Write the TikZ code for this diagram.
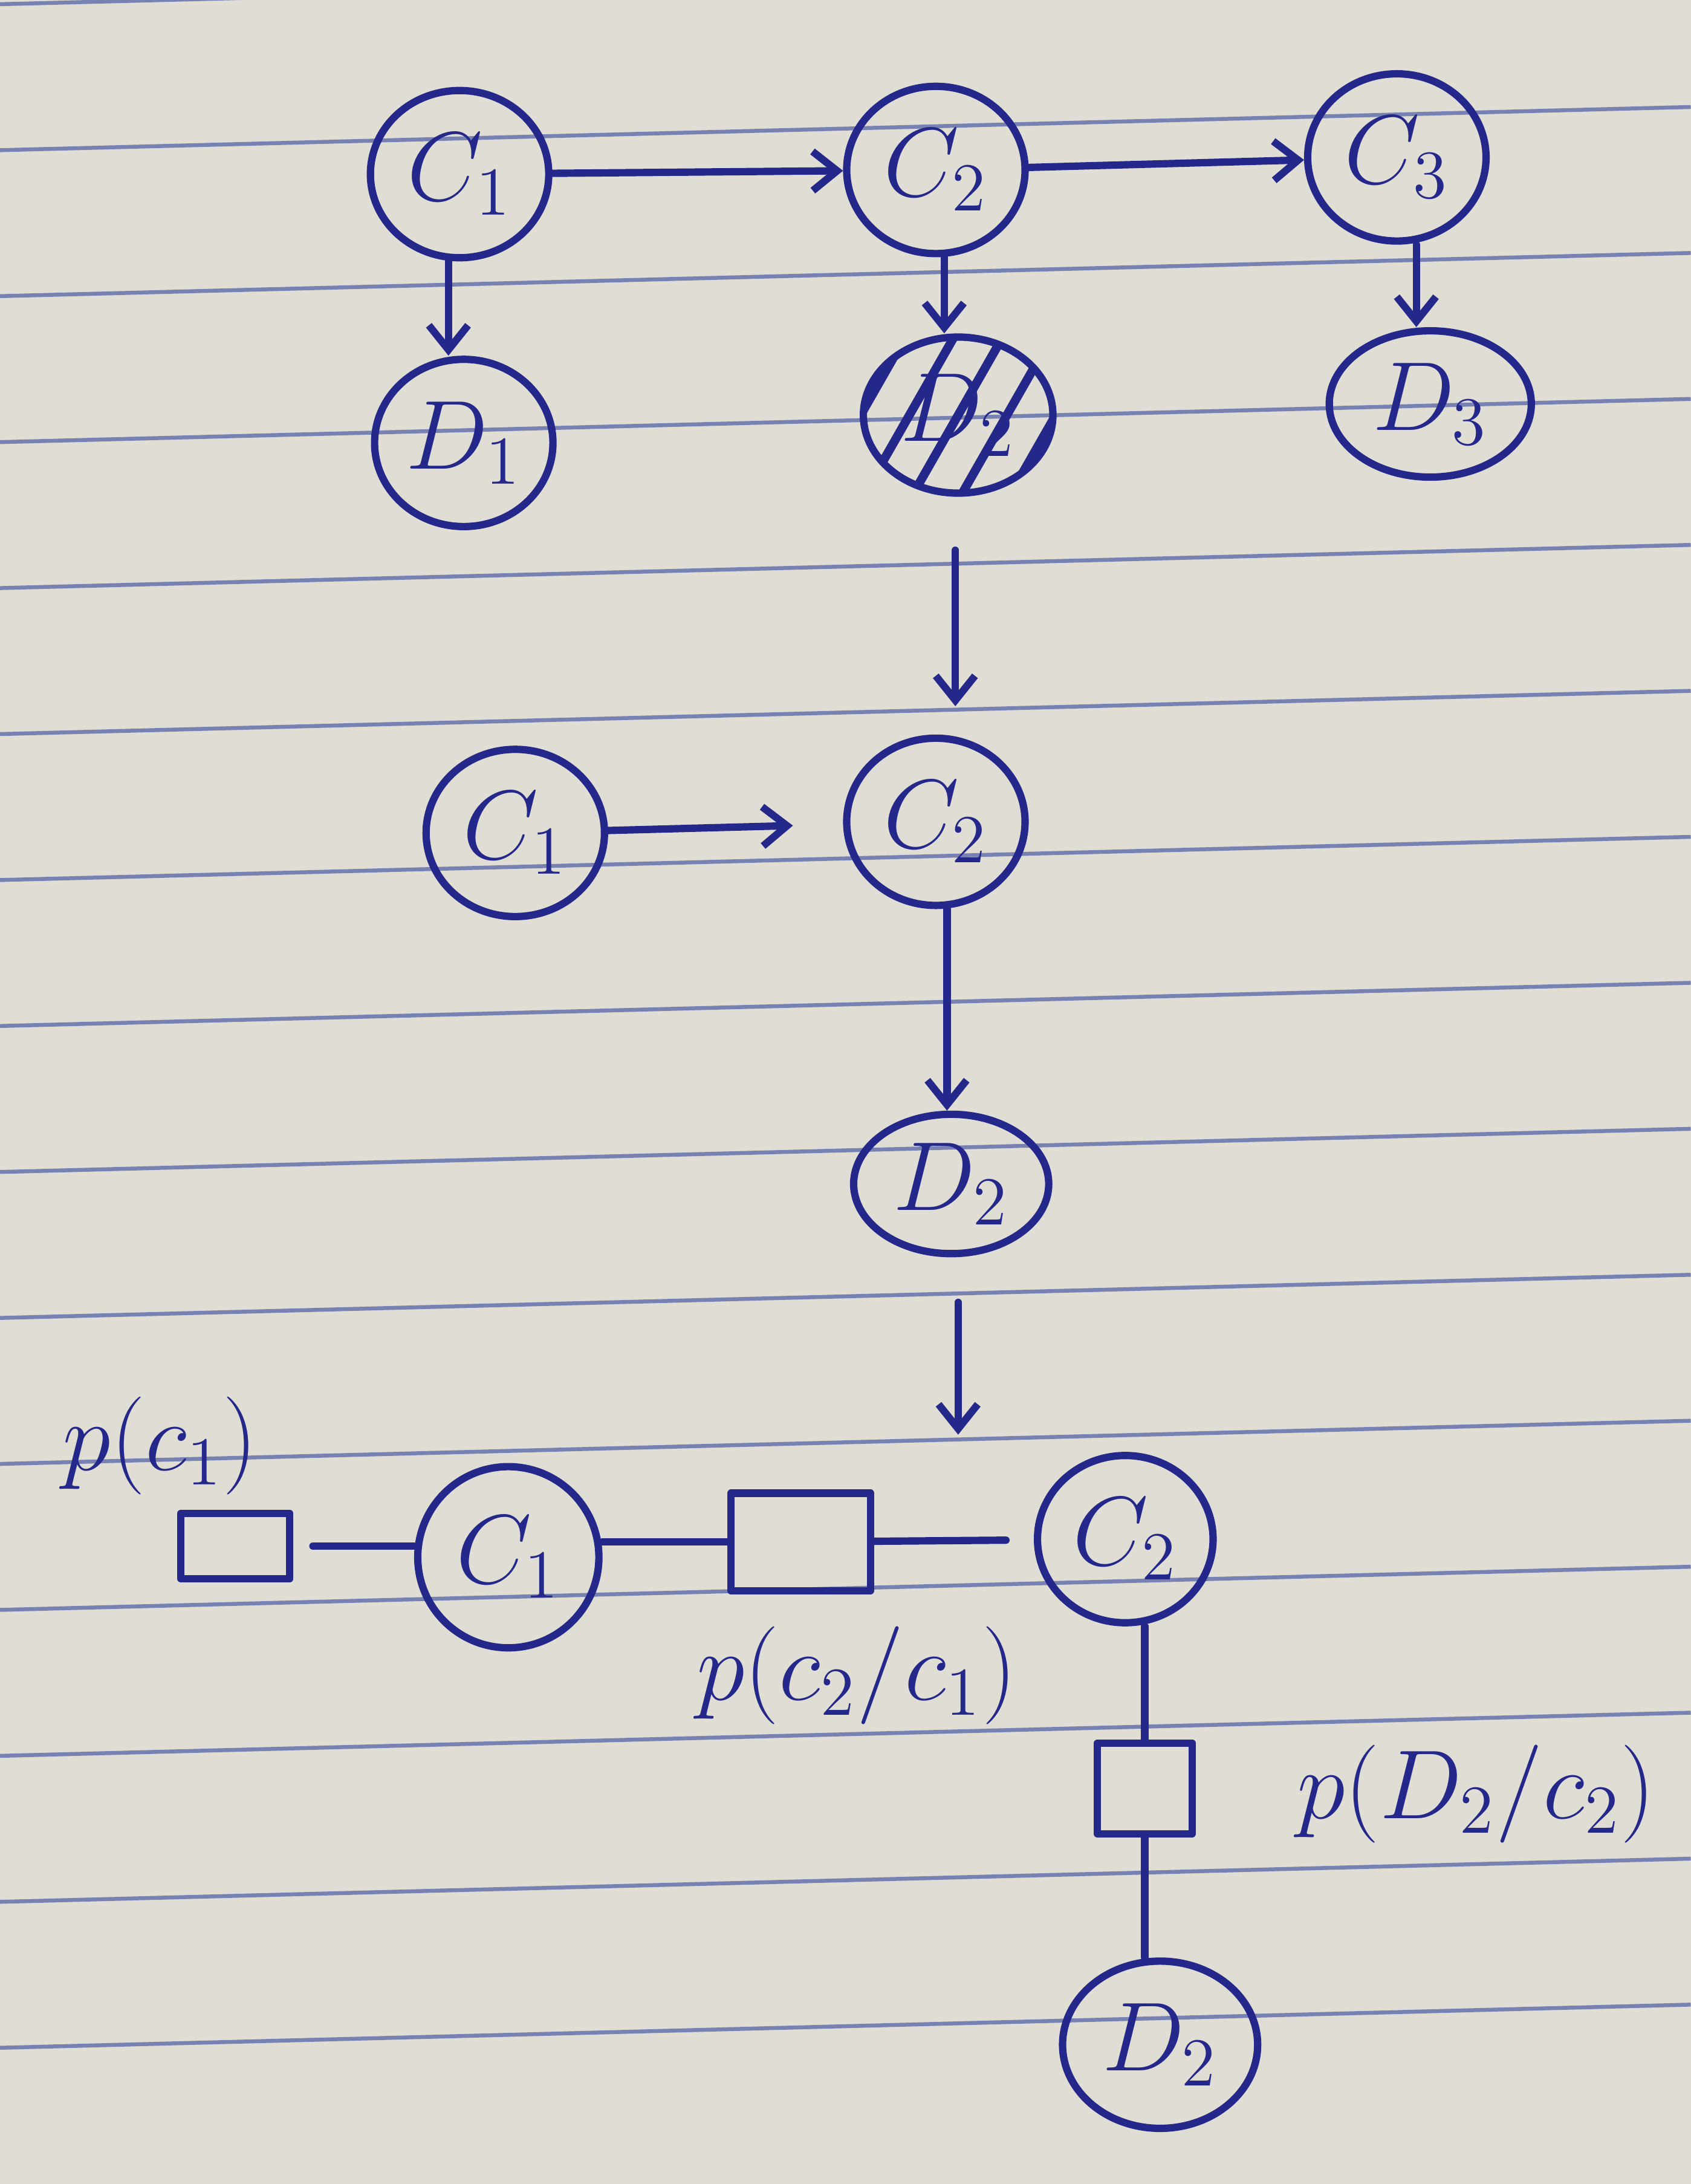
\documentclass[tikz,border=0pt]{standalone}
\usepackage{fix-cm}
\usetikzlibrary{arrows.meta,shapes.geometric}
\definecolor{paper}{RGB}{224,221,213}
\definecolor{ink}{RGB}{36,40,138}
\definecolor{rule}{RGB}{120,130,178}
\begin{document}
\begin{tikzpicture}[x=0.01cm, y=-0.01cm, font=\fontsize{20}{24}\selectfont, line join=round, line cap=round,
	>={Straight Barb[length=5pt,width=8pt]},
	var/.style={ellipse, draw=ink, line width=1.5pt, text=ink, minimum width=1.28cm, minimum height=1.2cm, inner sep=0pt},
	factor/.style={rectangle, draw=ink, line width=1.5pt, inner sep=0pt},
	lab/.style={text=ink, inner sep=0pt},
	edge/.style={draw=ink, line width=1.5pt}]
	% paper and ruled lines
	\fill[paper] (0,0) rectangle (1214,1568);
	\begin{scope}
		\clip (0,0) rectangle (1214,1568);
		\foreach \k in {0,...,14}
			\draw[rule, line width=0.8pt, line cap=butt] (0,3+104.8*\k) -- (1214,3+104.8*\k-31);
	\end{scope}
	% top: full network
	\node[var] (c1) at (330,125) {$C_1$};
	\node[var] (c2) at (672,122) {$C_2$};
	\node[var] (c3) at (1003,113) {$C_3$};
	\node[var] (d1) at (333,318) {$D_1$};
	\begin{scope}
		\clip (688,298) ellipse (0.68cm and 0.56cm);
		\foreach \i in {-70,-35,0,35,70}
			\draw[ink, line width=1.8pt] (688+\i-40,298+70) -- (688+\i+40,298-70);
	\end{scope}
	\node[var, minimum width=1.36cm, minimum height=1.12cm] (d2) at (688,298) {$D_2$};
	\node[var, minimum width=1.45cm, minimum height=1.05cm] (d3) at (1027,290) {$D_3$};
	\draw[edge,->] (c1) -- (c2);
	\draw[edge,->] (c2) -- (c3);
	\draw[edge,->] (c1.south) ++(-8,0) coordinate (c1s) -- (c1s |- d1.north);
	\draw[edge,->] (c2.south) ++(6,0) coordinate (c2s) -- (c2s |- d2.north);
	\draw[edge,->] (c3.south) ++(14,0) coordinate (c3s) -- (c3s |- d3.north);
	% reduce
	\coordinate (s1a) at (686,395);
	\coordinate (s1b) at (686,507);
	\draw[edge,->] (s1a) -- (s1b);
	% middle: pruned network
	\node[var] (mc1) at (370,598) {$C_1$};
	\node[var] (mc2) at (672,590) {$C_2$};
	\node[var, minimum width=1.4cm, minimum height=1.0cm] (md2) at (683,850) {$D_2$};
	\draw[edge,->, shorten >=0.36cm] (mc1) -- (mc2);
	\draw[edge,->] (mc2.south) ++(8,0) coordinate (mc2s) -- (mc2s |- md2.north);
	% to factor graph
	\coordinate (s2a) at (688,935);
	\coordinate (s2b) at (688,1030);
	\draw[edge,->] (s2a) -- (s2b);
	% bottom: factor graph
	\node[factor, minimum width=0.78cm, minimum height=0.47cm] (f1) at (169,1110) {};
	\node[lab] (lf1) at (115,1038) {$p(c_1)$};
	\node[var, minimum size=1.3cm] (bc1) at (365,1118) {$C_1$};
	\node[factor, minimum width=1.0cm, minimum height=0.7cm] (f2) at (575,1107) {};
	\node[lab] (lf2) at (615,1203) {$p(c_2/c_1)$};
	\node[var, minimum width=1.26cm, minimum height=1.2cm] (bc2) at (808,1105) {$C_2$};
	\node[factor, minimum width=0.68cm, minimum height=0.65cm] (f3) at (822,1284) {};
	\node[lab] (lf3) at (1060,1288) {$p(D_2/c_2)$};
	\node[var, minimum width=1.4cm, minimum height=1.2cm] (bd2) at (833,1468) {$D_2$};
	\draw[edge, shorten <=0.14cm] (f1.east) -- (f1.east -| bc1.west);
	\draw[edge] (f2.west) -- (f2.west -| bc1.east);
	\draw[edge, shorten >=0.2cm] (f2) -- (bc2);
	\draw[edge] (f3.north) -- (f3.north |- bc2.south);
	\draw[edge] (f3.south) -- (f3.south |- bd2.north);
\end{tikzpicture}
\end{document}
